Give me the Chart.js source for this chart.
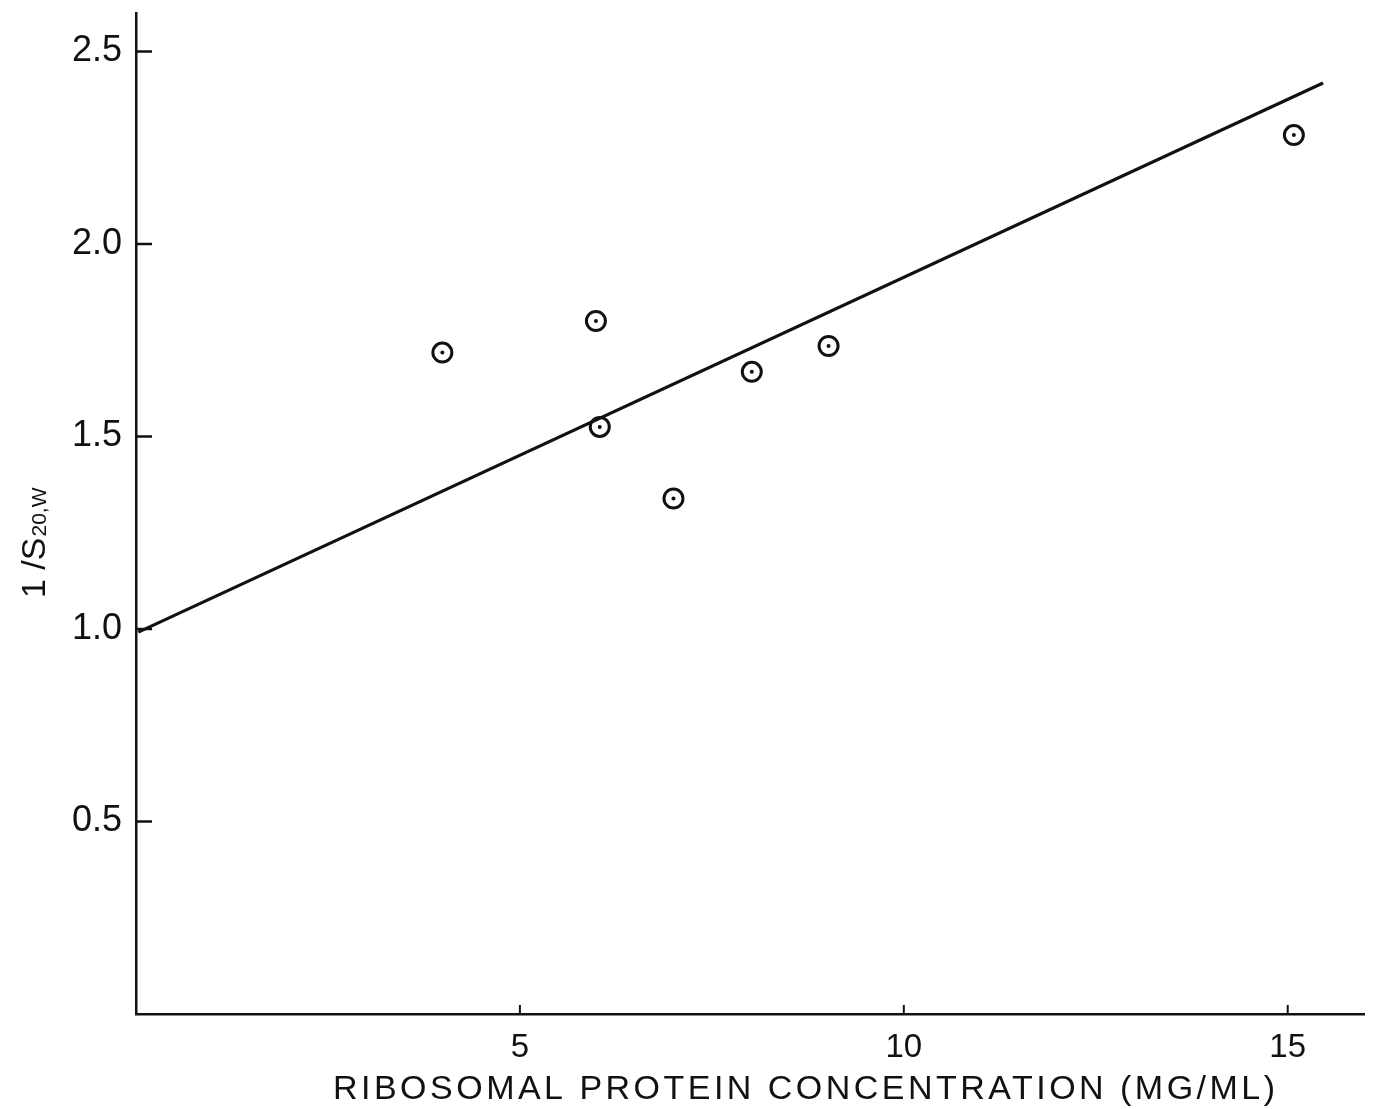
<!DOCTYPE html>
<html>
<head>
<meta charset="utf-8">
<script src="https://cdn.jsdelivr.net/npm/chart.js@4/dist/chart.umd.min.js"></script>
<style>
  html, body { margin: 0; padding: 0; background: #fff; }
  #wrap { width: 1377px; height: 1109px; }
</style>
</head>
<body>
<div id="wrap"><canvas id="c" width="1377" height="1109"></canvas></div>
<script>
// ---- data ----
const concX = [3.99, 5.99, 6.04, 7.0, 8.02, 9.02, 15.08];
const invS  = [1.718, 1.80, 1.525, 1.339, 1.668, 1.735, 2.283];
const fitX  = [0.03, 15.46];
const fitY  = [0.992, 2.418];
const xTickValues = [5, 10, 15];
const yTickValues = [0.5, 1.0, 1.5, 2.0, 2.5];
const xTitleText = 'RIBOSOMAL PROTEIN CONCENTRATION (MG/ML)';
const yTitleMain = '1 /S';
const yTitleSub  = '20,W';

const INK = '#111';
const FONT = "'Liberation Sans', Arial, sans-serif";

const pts = concX.map((x, i) => ({ x: x, y: invS[i] }));
const fitPts = fitX.map((x, i) => ({ x: x, y: fitY[i] }));

const decor = {
  id: 'decor',
  beforeDraw(chart) {
    const ctx = chart.ctx;
    ctx.save();
    ctx.fillStyle = '#fff';
    ctx.fillRect(0, 0, chart.width, chart.height);
    ctx.restore();
  },
  afterDraw(chart) {
    const ctx = chart.ctx;
    const xs = chart.scales.x, ys = chart.scales.y;
    const a = chart.chartArea;
    ctx.save();
    ctx.strokeStyle = INK;
    // inward y ticks
    ctx.lineWidth = 2.5;
    yTickValues.forEach(v => {
      const py = ys.getPixelForValue(v);
      ctx.beginPath(); ctx.moveTo(a.left, py); ctx.lineTo(a.left + 16, py); ctx.stroke();
    });
    // inward x ticks
    ctx.lineWidth = 2;
    xTickValues.forEach(v => {
      const px = xs.getPixelForValue(v);
      ctx.beginPath(); ctx.moveTo(px, a.bottom); ctx.lineTo(px, a.bottom - 9); ctx.stroke();
    });
    // x axis title
    ctx.fillStyle = INK;
    ctx.font = '34px ' + FONT;
    ctx.textBaseline = 'alphabetic';
    ctx.textAlign = 'left';
    const n = xTitleText.length;
    const w0 = ctx.measureText(xTitleText).width;
    const targetW = 942;
    const ls = (targetW - w0) / (n - 1);
    ctx.letterSpacing = ls + 'px';
    ctx.fillText(xTitleText, 333, 1099);
    ctx.letterSpacing = '0px';
    // y axis title (rotated)
    ctx.translate(45, 598);
    ctx.rotate(-Math.PI / 2);
    ctx.font = '34px ' + FONT;
    ctx.fillText(yTitleMain, 0, 0);
    const wm = ctx.measureText(yTitleMain).width;
    ctx.font = '21px ' + FONT;
    ctx.fillText(yTitleSub, wm + 1, 1);
    ctx.restore();
  }
};

new Chart(document.getElementById('c'), {
  type: 'scatter',
  data: {
    datasets: [
      {
        type: 'line',
        data: fitPts,
        borderColor: INK,
        borderWidth: 3.2,
        pointRadius: 0,
        fill: false,
        tension: 0,
        order: 3
      },
      {
        data: pts,
        pointStyle: 'circle',
        pointRadius: 9.5,
        pointBorderWidth: 3,
        pointBorderColor: INK,
        pointBackgroundColor: 'rgba(255,255,255,0)',
        order: 2
      },
      {
        data: pts,
        pointStyle: 'circle',
        pointRadius: 2,
        pointBorderWidth: 0,
        pointBackgroundColor: INK,
        order: 1
      }
    ]
  },
  options: {
    responsive: false,
    devicePixelRatio: 1,
    animation: false,
    events: [],
    layout: { padding: { left: 0, top: 13, right: 12, bottom: 0 } },
    plugins: { legend: { display: false }, tooltip: { enabled: false }, title: { display: false } },
    scales: {
      x: {
        type: 'linear',
        min: 0, max: 16,
        afterFit: s => { s.height = 95; s.paddingLeft = 0; s.paddingRight = 0; },
        afterBuildTicks: s => { s.ticks = xTickValues.map(v => ({ value: v })); },
        grid: { display: false, drawTicks: false },
        border: { display: true, color: INK, width: 2.5 },
        ticks: {
          color: INK,
          font: { family: FONT, size: 33 },
          padding: 14,
          maxRotation: 0,
          callback: v => String(v)
        },
        title: { display: false }
      },
      y: {
        type: 'linear',
        min: 0, max: 2.6,
        afterFit: s => { s.width = 136; s.paddingTop = 0; s.paddingBottom = 0; },
        afterBuildTicks: s => { s.ticks = yTickValues.map(v => ({ value: v })); },
        grid: { display: false, drawTicks: false },
        border: { display: true, color: INK, width: 2.5 },
        ticks: {
          color: INK,
          font: { family: FONT, size: 36 },
          padding: 14,
          callback: v => Number(v).toFixed(1)
        },
        title: { display: false }
      }
    }
  },
  plugins: [decor]
});
</script>
</body>
</html>
